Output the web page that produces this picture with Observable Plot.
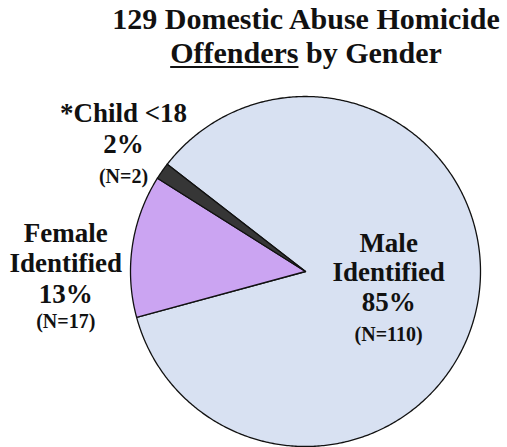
<!DOCTYPE html>
<html><head><meta charset="utf-8">
<script src="https://cdn.jsdelivr.net/npm/d3@7"></script>
<script src="https://cdn.jsdelivr.net/npm/@observablehq/plot@0.6"></script>
<style>
body{margin:0;background:#fff;width:507px;height:447px;overflow:hidden;font-family:'Liberation Serif',Tinos,'Times New Roman',serif;}
#title{position:relative;height:75px;width:507px;}
#title div{position:absolute;left:0;width:612px;text-align:center;font-family:'Liberation Serif',Tinos,serif;font-weight:bold;font-size:30px;line-height:30px;color:#111;white-space:nowrap;}
#title u{text-decoration-thickness:2px;text-underline-offset:3px;}
#chart svg{display:block;}
</style></head><body>
<div id="title"><div style="top:4px">129 Domestic Abuse Homicide</div><div style="top:38px"><u>Offenders</u> by Gender</div></div>
<div id="chart"></div>
<script>
// ---- data ----
const categories = ["Male Identified", "Female Identified", "*Child <18"];
const counts = [110, 17, 2];
const percentLabels = ["85%", "13%", "2%"];
const nLabels = ["(N=110)", "(N=17)", "(N=2)"];
const nameLines = [["Male", "Identified"], ["Female", "Identified"], ["*Child <18"]];

// ---- styles / layout ----
const colors = ["#d8e1f2", "#cba4f2", "#363636"];
const FONT = "'Liberation Serif', Tinos, 'Times New Roman', serif";
const startDeg = 307.8;            // rotation of first slice (clockwise from 12 o'clock)
const R = 175, CX = 305, CY = 196; // pie radius and centre inside the svg (px)
const W = 507, H = 372;
// label blocks: anchor (unit pie coords) of first baseline, line spacing px
const labelLayout = [
  {x: 0.475, y: 0.11, gap: [29, 30, 30]},
  {x: -1.37, y: 0.17, gap: [30, 31, 25]},
  {x: -1.04, y: 0.855, gap: [31, 30]}
];

const pie = d3.pie().sort(null).value(d => d)
  .startAngle(startDeg * Math.PI / 180).endAngle(startDeg * Math.PI / 180 + 2 * Math.PI);
const arcs = pie(counts);

const pts = [];
arcs.forEach((a, i) => {
  pts.push({cat: categories[i], x: 0, y: 0});
  const n = Math.max(2, Math.ceil((a.endAngle - a.startAngle) / 0.01));
  for (let k = 0; k <= n; k++) {
    const t = a.startAngle + (a.endAngle - a.startAngle) * k / n;
    pts.push({cat: categories[i], x: Math.sin(t), y: Math.cos(t)});
  }
});

const big = [], small = [];
categories.forEach((c, i) => {
  const L = labelLayout[i];
  let yPx = 0;
  const lines = [...nameLines[i], percentLabels[i]];
  lines.forEach((t, j) => {
    if (j > 0) yPx += L.gap[j - 1];
    big.push({text: t, x: L.x, y: L.y - yPx / R});
  });
  yPx += L.gap[lines.length - 1];
  small.push({text: nLabels[i], x: L.x, y: L.y - yPx / R});
});

const chart = Plot.plot({
  width: W, height: H,
  marginLeft: CX - R, marginRight: W - CX - R,
  marginTop: CY - R, marginBottom: H - CY - R,
  x: {domain: [-1, 1], axis: null},
  y: {domain: [-1, 1], axis: null},
  color: {domain: categories, range: colors},
  style: {background: "white", overflow: "visible", fontFamily: FONT},
  marks: [
    Plot.line(pts, {x: "x", y: "y", z: "cat", fill: "cat", stroke: "#111", strokeWidth: 1.3, curve: "linear-closed"}),
    Plot.text(big, {x: "x", y: "y", text: "text", lineAnchor: "bottom", textAnchor: "middle",
      fontSize: 27, fontWeight: "bold", fontFamily: FONT, fill: "#111"}),
    Plot.text(small, {x: "x", y: "y", text: "text", lineAnchor: "bottom", textAnchor: "middle",
      fontSize: 20, fontWeight: "bold", fontFamily: FONT, fill: "#111"})
  ]
});
document.getElementById("chart").appendChild(chart);
</script>
</body></html>
